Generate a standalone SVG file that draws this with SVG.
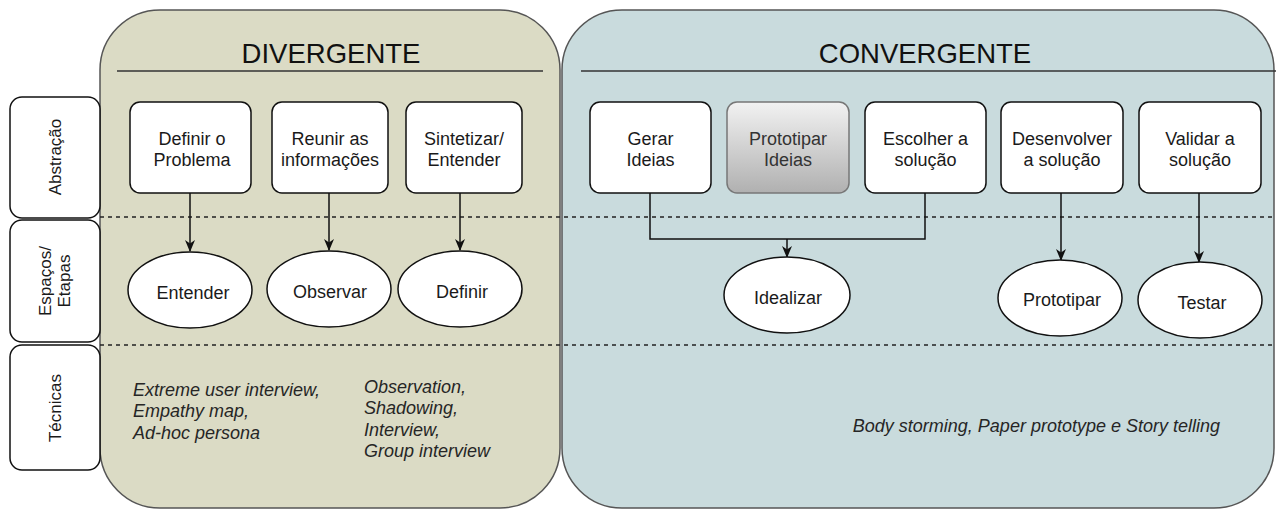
<svg xmlns="http://www.w3.org/2000/svg" width="1276" height="510" viewBox="0 0 1276 510">
  <defs>
    <linearGradient id="grayFill" x1="0" y1="0" x2="0" y2="1">
      <stop offset="0" stop-color="#f2f2f2"/>
      <stop offset="1" stop-color="#b0b0b0"/>
    </linearGradient>
    <marker id="arrow" viewBox="0 0 12 12" refX="11" refY="6" markerWidth="12" markerHeight="12" markerUnits="userSpaceOnUse" orient="auto">
      <path d="M0,1 L12,6 L0,11 L3.5,6 Z" fill="#111"/>
    </marker>
    <style>
      .panel { stroke: #555; stroke-width: 1.5; }
      .rule { stroke: #333; stroke-width: 1.5; }
      .dash { stroke: #222; stroke-width: 1.5; stroke-dasharray: 4 4; fill: none; }
      .box { fill: #fff; stroke: #111; stroke-width: 1.5; }
      .side { fill: #fff; stroke: #111; stroke-width: 1.5; }
      .title { font-family: "Liberation Sans", Arial, sans-serif; font-size: 27.5px; fill: #111; text-anchor: middle; }
      .lbl { font-family: "Liberation Sans", Arial, sans-serif; font-size: 18px; fill: #1a1a1a; text-anchor: middle; }
      .side-lbl { font-family: "Liberation Sans", Arial, sans-serif; font-size: 17px; fill: #1a1a1a; text-anchor: middle; }
      .tech { font-family: "Liberation Sans", Arial, sans-serif; font-size: 18px; font-style: italic; fill: #262626; }
      .edge { stroke: #111; stroke-width: 1.5; fill: none; }
    </style>
  </defs>

  <!-- phase panels -->
  <g id="panel-divergente">
    <rect class="panel" x="100" y="10" width="460" height="498" rx="60" ry="60" fill="#dbdbc5"/>
    <line class="rule" x1="117" y1="71" x2="543" y2="71"/>
    <text class="title" x="331" y="63">DIVERGENTE</text>
  </g>
  <g id="panel-convergente">
    <rect class="panel" x="562" y="10" width="712" height="498" rx="60" ry="60" fill="#c9dbdd"/>
    <line class="rule" x1="581" y1="71" x2="1276" y2="71"/>
    <text class="title" x="925" y="63">CONVERGENTE</text>
  </g>

  <!-- row separators -->
  <g id="separators">
    <line class="dash" x1="100" y1="217" x2="1276" y2="217"/>
    <line class="dash" x1="100" y1="345" x2="1276" y2="345"/>
  </g>

  <!-- row headers -->
  <g id="row-abstracao">
    <rect class="side" x="10" y="97" width="90" height="121" rx="12"/>
    <text class="side-lbl" transform="translate(61,157) rotate(-90)">Abstração</text>
  </g>
  <g id="row-espacos">
    <rect class="side" x="10" y="220" width="90" height="122" rx="12"/>
    <text class="side-lbl" transform="translate(61,281) rotate(-90)"><tspan x="0" y="-10">Espaços/</tspan><tspan x="0" y="9">Etapas</tspan></text>
  </g>
  <g id="row-tecnicas">
    <rect class="side" x="10" y="345" width="90" height="125" rx="12"/>
    <text class="side-lbl" transform="translate(61,408) rotate(-90)">Técnicas</text>
  </g>

  <!-- connectors -->
  <g id="connectors">
    <path class="edge" d="M190,193 V251" marker-end="url(#arrow)"/>
    <path class="edge" d="M329,193 V250" marker-end="url(#arrow)"/>
    <path class="edge" d="M460,193 V250" marker-end="url(#arrow)"/>
    <path class="edge" d="M650,193 V239 H925 V193"/>
    <path class="edge" d="M787,239 V257" marker-end="url(#arrow)"/>
    <path class="edge" d="M1061,193 V260" marker-end="url(#arrow)"/>
    <path class="edge" d="M1199,193 V262" marker-end="url(#arrow)"/>
  </g>

  <!-- abstraction boxes -->
  <g id="definir-problema">
    <rect class="box" x="130" y="102" width="121" height="91" rx="10"/>
    <text class="lbl" x="192" y="145">Definir o</text>
    <text class="lbl" x="192" y="166">Problema</text>
  </g>
  <g id="reunir-informacoes">
    <rect class="box" x="272" y="102" width="116" height="91" rx="10"/>
    <text class="lbl" x="330" y="145">Reunir as</text>
    <text class="lbl" x="330" y="166">informações</text>
  </g>
  <g id="sintetizar-entender">
    <rect class="box" x="406" y="102" width="116" height="91" rx="10"/>
    <text class="lbl" x="464" y="145">Sintetizar/</text>
    <text class="lbl" x="464" y="166">Entender</text>
  </g>
  <g id="gerar-ideias">
    <rect class="box" x="590" y="102" width="121" height="91" rx="10"/>
    <text class="lbl" x="650.5" y="145">Gerar</text>
    <text class="lbl" x="650.5" y="166">Ideias</text>
  </g>
  <g id="prototipar-ideias">
    <rect x="727" y="102" width="122" height="91" rx="10" fill="url(#grayFill)" stroke="#777" stroke-width="1.5"/>
    <text class="lbl" x="788" y="145" style="fill:#333">Prototipar</text>
    <text class="lbl" x="788" y="166" style="fill:#333">Ideias</text>
  </g>
  <g id="escolher-solucao">
    <rect class="box" x="865" y="102" width="121" height="91" rx="10"/>
    <text class="lbl" x="925.5" y="145">Escolher a</text>
    <text class="lbl" x="925.5" y="166">solução</text>
  </g>
  <g id="desenvolver-solucao">
    <rect class="box" x="1001" y="102" width="122" height="91" rx="10"/>
    <text class="lbl" x="1062" y="145">Desenvolver</text>
    <text class="lbl" x="1062" y="166">a solução</text>
  </g>
  <g id="validar-solucao">
    <rect class="box" x="1139" y="102" width="122" height="91" rx="10"/>
    <text class="lbl" x="1200" y="145">Validar a</text>
    <text class="lbl" x="1200" y="166">solução</text>
  </g>

  <!-- stage ellipses -->
  <g id="entender">
    <ellipse class="box" cx="190" cy="290" rx="62" ry="38"/>
    <text class="lbl" x="193" y="299">Entender</text>
  </g>
  <g id="observar">
    <ellipse class="box" cx="329" cy="289" rx="62" ry="38"/>
    <text class="lbl" x="330" y="298">Observar</text>
  </g>
  <g id="definir">
    <ellipse class="box" cx="460" cy="289" rx="62" ry="38"/>
    <text class="lbl" x="462" y="298">Definir</text>
  </g>
  <g id="idealizar">
    <ellipse class="box" cx="787" cy="295" rx="63" ry="38"/>
    <text class="lbl" x="788" y="304">Idealizar</text>
  </g>
  <g id="prototipar">
    <ellipse class="box" cx="1060" cy="298" rx="62" ry="38"/>
    <text class="lbl" x="1062" y="306">Prototipar</text>
  </g>
  <g id="testar">
    <ellipse class="box" cx="1200" cy="300" rx="62" ry="38"/>
    <text class="lbl" x="1202" y="309">Testar</text>
  </g>

  <!-- techniques -->
  <g id="tecnicas-entender">
    <text class="tech" x="133" y="396">Extreme user interview,</text>
    <text class="tech" x="133" y="417">Empathy map,</text>
    <text class="tech" x="133" y="439">Ad-hoc persona</text>
  </g>
  <g id="tecnicas-observar">
    <text class="tech" x="364" y="393">Observation,</text>
    <text class="tech" x="364" y="414">Shadowing,</text>
    <text class="tech" x="364" y="436">Interview,</text>
    <text class="tech" x="364" y="457">Group interview</text>
  </g>
  <g id="tecnicas-convergente">
    <text class="tech" x="1220" y="432" text-anchor="end">Body storming, Paper prototype e Story telling</text>
  </g>
</svg>
